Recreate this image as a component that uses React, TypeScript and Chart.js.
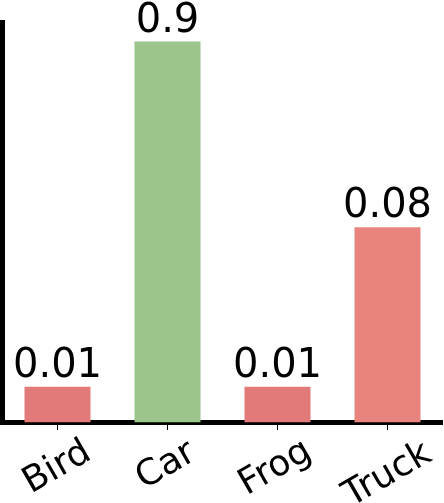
import React, { useEffect, useRef } from "react";
import { Chart, registerables } from "chart.js";

Chart.register(...registerables);

const categories = ["Bird", "Car", "Frog", "Truck"];
const probabilities = [0.01, 0.9, 0.01, 0.08];
const valueLabels = ["0.01", "0.9", "0.01", "0.08"];
const barColors = ["#e27a7a", "#9cc58b", "#e27a7a", "#e8847d"];
const axisMin = 0.00627;
const axisMax = 1.162;

const FONT = "'DejaVu Sans', 'Liberation Sans', sans-serif";

const labelPlugin = {
  id: "customLabels",
  afterDraw(chart: any) {
    const ctx = chart.ctx as CanvasRenderingContext2D;
    const xs = chart.scales.x;
    const ys = chart.scales.y;
    const area = chart.chartArea;
    ctx.save();
    ctx.fillStyle = "#000";
    // value labels above bars
    ctx.font = `40px ${FONT}`;
    ctx.textAlign = "center";
    ctx.textBaseline = "alphabetic";
    probabilities.forEach((v, i) => {
      const x = xs.getPixelForValue(i);
      const y = ys.getPixelForValue(v);
      ctx.fillText(valueLabels[i], x, y - 10);
    });
    // rotated category labels
    ctx.font = `36px ${FONT}`;
    ctx.textAlign = "left";
    const a = (-30 * Math.PI) / 180;
    const ca = Math.cos(a);
    const sa = Math.sin(a);
    categories.forEach((label, i) => {
      const m = ctx.measureText(label);
      const x0 = -m.actualBoundingBoxLeft;
      const x1 = m.actualBoundingBoxRight;
      const y0 = -m.actualBoundingBoxAscent;
      const y1 = m.actualBoundingBoxDescent;
      const pts = [
        [x0, y0],
        [x1, y0],
        [x0, y1],
        [x1, y1],
      ].map(([px, py]) => [px * ca - py * sa, px * sa + py * ca]);
      const minX = Math.min(...pts.map((p) => p[0]));
      const maxX = Math.max(...pts.map((p) => p[0]));
      const minY = Math.min(...pts.map((p) => p[1]));
      const cx = xs.getPixelForValue(i) - 2;
      const top = area.bottom + 13.5;
      ctx.save();
      ctx.translate(cx - (minX + maxX) / 2, top - minY);
      ctx.rotate(a);
      ctx.fillText(label, 0, 0);
      ctx.restore();
    });
    ctx.restore();
  },
};

export default function App() {
  const canvasRef = useRef<HTMLCanvasElement | null>(null);

  useEffect(() => {
    if (!canvasRef.current) return;
    const chart = new Chart(canvasRef.current, {
      type: "bar",
      data: {
        labels: categories,
        datasets: [
          {
            data: probabilities,
            backgroundColor: barColors,
            borderWidth: 0,
            barPercentage: 0.6,
            categoryPercentage: 1,
          },
        ],
      },
      options: {
        responsive: false,
        animation: false,
        layout: { padding: { left: 2.5, right: 1.5, top: 22, bottom: 73 } },
        plugins: {
          legend: { display: false },
          tooltip: { enabled: false },
          title: { display: false },
        },
        scales: {
          x: {
            type: "category",
            offset: true,
            grid: {
              display: true,
              drawOnChartArea: false,
              drawTicks: true,
              tickLength: 7.5,
              color: "#000",
              lineWidth: 1,
              offset: false,
            },
            ticks: { display: false },
            border: { display: true, width: 5, color: "#000" },
          },
          y: {
            type: "logarithmic",
            min: axisMin,
            max: axisMax,
            bounds: "data",
            grid: { display: true, drawOnChartArea: false, drawTicks: false },
            ticks: { display: false },
            border: { display: true, width: 5, color: "#000" },
          },
        },
      },
      plugins: [labelPlugin],
    });
    return () => chart.destroy();
  }, []);

  return (
    <div style={{ position: "absolute", left: 0, top: 0, width: 444, height: 503, background: "#fff" }}>
      <canvas ref={canvasRef} width={444} height={503} style={{ display: "block" }} />
    </div>
  );
}
